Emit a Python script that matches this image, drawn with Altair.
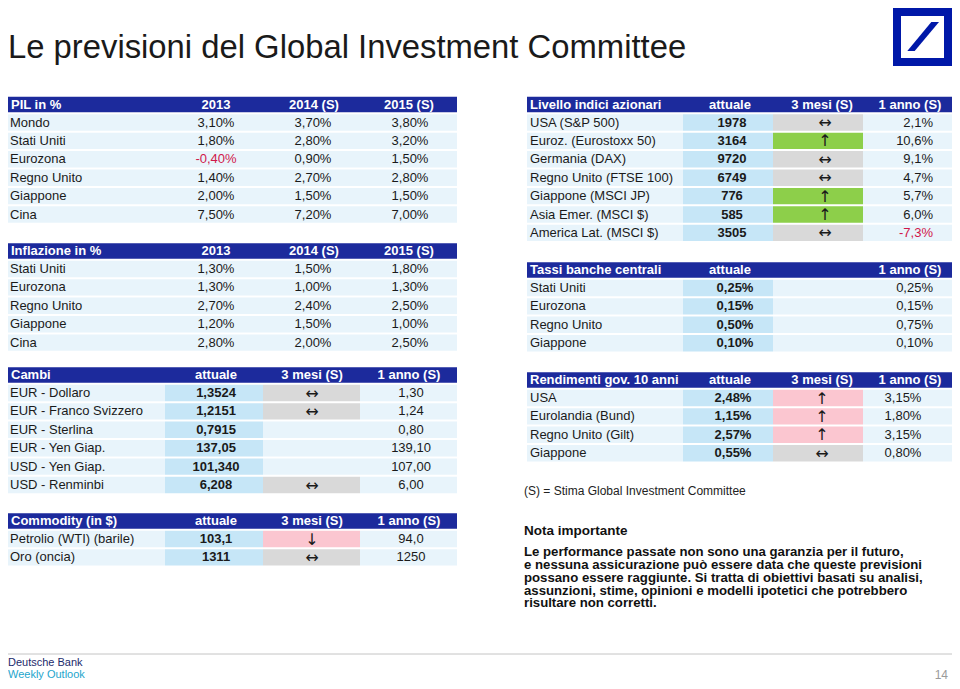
import altair as alt
import pandas as pd

# ---------------- data ----------------
title_text = "Le previsioni del Global Investment Committee"

pil_title = "PIL in %"
pil_heads = ["2013", "2014 (S)", "2015 (S)"]
pil_labels = ["Mondo", "Stati Uniti", "Eurozona", "Regno Unito", "Giappone", "Cina"]
pil_2013 = ["3,10%", "1,80%", "-0,40%", "1,40%", "2,00%", "7,50%"]
pil_2014 = ["3,70%", "2,80%", "0,90%", "2,70%", "1,50%", "7,20%"]
pil_2015 = ["3,80%", "3,20%", "1,50%", "2,80%", "1,50%", "7,00%"]

infl_title = "Inflazione in %"
infl_heads = ["2013", "2014 (S)", "2015 (S)"]
infl_labels = ["Stati Uniti", "Eurozona", "Regno Unito", "Giappone", "Cina"]
infl_2013 = ["1,30%", "1,30%", "2,70%", "1,20%", "2,80%"]
infl_2014 = ["1,50%", "1,00%", "2,40%", "1,50%", "2,00%"]
infl_2015 = ["1,80%", "1,30%", "2,50%", "1,00%", "2,50%"]

fx_title = "Cambi"
fx_heads = ["attuale", "3 mesi (S)", "1 anno (S)"]
fx_labels = ["EUR - Dollaro", "EUR - Franco Svizzero", "EUR - Sterlina",
             "EUR - Yen  Giap.", "USD - Yen Giap.", "USD - Renminbi"]
fx_attuale = ["1,3524", "1,2151", "0,7915", "137,05", "101,340", "6,208"]
fx_3m = ["eq", "eq", "", "", "", "eq"]
fx_1y = ["1,30", "1,24", "0,80", "139,10", "107,00", "6,00"]

com_title = "Commodity (in $)"
com_heads = ["attuale", "3 mesi (S)", "1 anno (S)"]
com_labels = ["Petrolio (WTI) (barile)", "Oro (oncia)"]
com_attuale = ["103,1", "1311"]
com_3m = ["down", "eq"]
com_1y = ["94,0", "1250"]

eq_title = "Livello indici azionari"
eq_heads = ["attuale", "3 mesi (S)", "1 anno (S)"]
eq_labels = ["USA (S&P 500)", "Euroz. (Eurostoxx 50)", "Germania (DAX)",
             "Regno Unito (FTSE 100)", "Giappone (MSCI JP)", "Asia Emer. (MSCI $)",
             "America Lat. (MSCI $)"]
eq_attuale = ["1978", "3164", "9720", "6749", "776", "585", "3505"]
eq_3m = ["eq", "up", "eq", "eq", "up", "up", "eq"]
eq_1y = ["2,1%", "10,6%", "9,1%", "4,7%", "5,7%", "6,0%", "-7,3%"]

cb_title = "Tassi banche centrali"
cb_heads = ["attuale", "1 anno (S)"]
cb_labels = ["Stati Uniti", "Eurozona", "Regno Unito", "Giappone"]
cb_attuale = ["0,25%", "0,15%", "0,50%", "0,10%"]
cb_1y = ["0,25%", "0,15%", "0,75%", "0,10%"]

bond_title = "Rendimenti gov. 10 anni"
bond_heads = ["attuale", "3 mesi (S)", "1 anno (S)"]
bond_labels = ["USA", "Eurolandia (Bund)", "Regno Unito (Gilt)", "Giappone"]
bond_attuale = ["2,48%", "1,15%", "2,57%", "0,55%"]
bond_3m = ["up", "up", "up", "eq"]
bond_1y = ["3,15%", "1,80%", "3,15%", "0,80%"]

note_S = "(S) = Stima Global Investment Committee"
note_title = "Nota importante"
note_lines = [
    "Le performance passate non sono una garanzia per il futuro,",
    "e nessuna assicurazione può essere data che queste previsioni",
    "possano essere raggiunte. Si tratta di obiettivi basati su analisi,",
    "assunzioni, stime, opinioni e modelli ipotetici che potrebbero",
    "risultare non corretti.",
]
footer_1 = "Deutsche Bank"
footer_2 = "Weekly Outlook"
page_no = "14"

ARROWS = {"eq": "\u2194", "up": "\u2191", "down": "\u2193", "": ""}

# ---------------- style ----------------
FONT = "Liberation Sans, Arial, Helvetica, sans-serif"
ARROW_FONT = "DejaVu Sans"
HEADER = "#1c2a9c"
LIGHT = "#e8f4fb"
ATT = "#c6e6f7"
GRAY = "#d9d9d9"
GREEN = "#8dcf4a"
PINK = "#fbc6d0"
RED = "#d0174a"
TXT = "#1a1a1a"
WHITE = "#ffffff"

ROW_STEP = 18.4
ROW_HALF = 8.2
HDR_HALF = 7.8

rects, texts = [], []


def R(x, x2, y, y2, c):
    rects.append(dict(x=x, x2=x2, y=y, y2=y2, color=c))


def T(x, y, t, c=TXT, align="left", weight="normal", size=13, baseline="middle",
      font=FONT):
    texts.append(dict(x=x, y=y, text=t, color=c, align=align, weight=weight,
                      size=size, baseline=baseline, font=font))


def header(x0, x1, y, title, heads, centers):
    R(x0, x1, y - HDR_HALF, y + HDR_HALF, HEADER)
    T(x0 + 3, y, title, WHITE, "left", "bold")
    for h, cx in zip(heads, centers):
        T(cx, y, h, WHITE, "center", "bold")


def row_y(hy, i):
    return hy + 18 + i * ROW_STEP


# --- left: simple % tables ---
LX0, LX1 = 8, 457
L_SEG = [(8, 165), (165, 263), (263, 360), (360, 457)]


def pct_table(hy, title, heads, labels, c1, c2, c3):
    header(LX0, LX1, hy, title, heads, [216, 314, 409])
    for i, lab in enumerate(labels):
        y = row_y(hy, i)
        R(LX0, LX1, y - ROW_HALF, y + ROW_HALF, LIGHT)
        T(10, y, lab)
        for v, cx in zip([c1[i], c2[i], c3[i]], [216, 313, 410]):
            T(cx, y, v, RED if v.startswith("-") else TXT, "center")


pct_table(104.5, pil_title, pil_heads, pil_labels, pil_2013, pil_2014, pil_2015)
pct_table(251, infl_title, infl_heads, infl_labels, infl_2013, infl_2014, infl_2015)


def left_fc_table(hy, title, heads, labels, att, m3, y1, tones):
    header(LX0, LX1, hy, title, heads, [216, 312, 409])
    for i, lab in enumerate(labels):
        y = row_y(hy, i)
        cols = [LIGHT, ATT, tones.get(m3[i], LIGHT), LIGHT]
        for (a, b), c in zip(L_SEG, cols):
            R(a, b, y - ROW_HALF, y + ROW_HALF, c)
        T(10, y, lab)
        T(216, y, att[i], TXT, "center", "bold")
        if m3[i]:
            T(312, y + 0.5, ARROWS[m3[i]], TXT, "center", "normal", 16, font=ARROW_FONT)
        T(411, y, y1[i], TXT, "center")


left_fc_table(375, fx_title, fx_heads, fx_labels, fx_attuale, fx_3m, fx_1y,
              {"eq": GRAY})
left_fc_table(521, com_title, com_heads, com_labels, com_attuale, com_3m, com_1y,
              {"eq": GRAY, "down": PINK})

# --- right tables ---
RX0, RX1 = 527, 952
R_SEG = [(527, 683), (683, 773), (773, 863), (863, 952)]


def right_table(hy, title, heads, hcenters, labels, att, m3, y1, tones, att_x, m3_x,
                y1_x, y1_align):
    header(RX0, RX1, hy, title, heads, hcenters)
    for i, lab in enumerate(labels):
        y = row_y(hy, i)
        k = m3[i] if m3 else ""
        cols = [LIGHT, ATT, tones.get(k, LIGHT), LIGHT]
        for (a, b), c in zip(R_SEG, cols):
            R(a, b, y - ROW_HALF, y + ROW_HALF, c)
        T(530, y, lab)
        T(att_x, y, att[i], TXT, "center", "bold")
        if k:
            T(m3_x, y + 0.5, ARROWS[k], TXT, "center", "normal", 16, font=ARROW_FONT)
        T(y1_x, y, y1[i], RED if y1[i].startswith("-") else TXT, y1_align)


right_table(104.5, eq_title, eq_heads, [730, 822, 910], eq_labels, eq_attuale, eq_3m,
            eq_1y, {"eq": GRAY, "up": GREEN}, 732, 825, 933, "right")
right_table(270, cb_title, cb_heads, [730, 910], cb_labels, cb_attuale, None, cb_1y,
            {}, 735, 825, 933, "right")
right_table(380, bond_title, bond_heads, [730, 822, 910], bond_labels, bond_attuale,
            bond_3m, bond_1y, {"eq": GRAY, "up": PINK}, 733, 822, 903, "center")

# --- free text ---
T(8, 58, title_text, "#1a1a1a", "left", "normal", 32.8, "alphabetic")
T(524, 491, note_S, "#222222", "left", "normal", 12)
T(524, 531, note_title, "#111111", "left", "bold", 13.5)
for i, line in enumerate(note_lines):
    T(524, 551.8 + i * 12.9, line, "#111111", "left", "bold", 13.2)
T(8, 662.5, footer_1, "#1c2a6b", "left", "normal", 11)
T(8, 674.5, footer_2, "#1ea5cc", "left", "normal", 11)
T(948, 674.5, page_no, "#9a9a9a", "right", "normal", 12)

# --- logo ---
R(893, 952, 7.5, 66, "#0018a8")
R(901, 944, 16, 58, WHITE)
slash = pd.DataFrame({"y": [22, 51], "x": [931.3, 907.3], "x2": [939, 914.7]})

rule_df = pd.DataFrame({"x": [8], "x2": [952], "y": [654]})

# ---------------- chart ----------------
XS = alt.Scale(domain=[8, 952], nice=False, zero=False)
YS = alt.Scale(domain=[8, 681], nice=False, zero=False, reverse=True)

rect_df = pd.DataFrame(rects)
text_df = pd.DataFrame(texts)

rect_layer = alt.Chart(rect_df).mark_rect().encode(
    x=alt.X("x:Q", scale=XS, axis=None),
    x2="x2:Q",
    y=alt.Y("y:Q", scale=YS, axis=None),
    y2="y2:Q",
    color=alt.Color("color:N", scale=None),
)

slash_layer = alt.Chart(slash).mark_area(orient="horizontal", color="#0018a8").encode(
    y=alt.Y("y:Q", scale=YS, axis=None),
    x=alt.X("x:Q", scale=XS, axis=None),
    x2="x2:Q",
)

rule_layer = alt.Chart(rule_df).mark_rule(color="#c4c4c4", strokeWidth=1).encode(
    x=alt.X("x:Q", scale=XS, axis=None),
    x2="x2:Q",
    y=alt.Y("y:Q", scale=YS, axis=None),
)

layers = [rect_layer, slash_layer, rule_layer]
for (align, weight, baseline, font), sub in text_df.groupby(
        ["align", "weight", "baseline", "font"]):
    layers.append(
        alt.Chart(sub).mark_text(align=align, baseline=baseline, fontWeight=weight,
                                 font=font).encode(
            x=alt.X("x:Q", scale=XS, axis=None),
            y=alt.Y("y:Q", scale=YS, axis=None),
            text="text:N",
            color=alt.Color("color:N", scale=None),
            size=alt.Size("size:Q", scale=None),
        )
    )

chart = alt.layer(*layers).properties(
    width=944, height=673, padding=0,
    autosize=alt.AutoSizeParams(type="none"),
).configure_view(stroke=None)

chart.save("out.html", embed_options={"renderer": "svg", "actions": False})
